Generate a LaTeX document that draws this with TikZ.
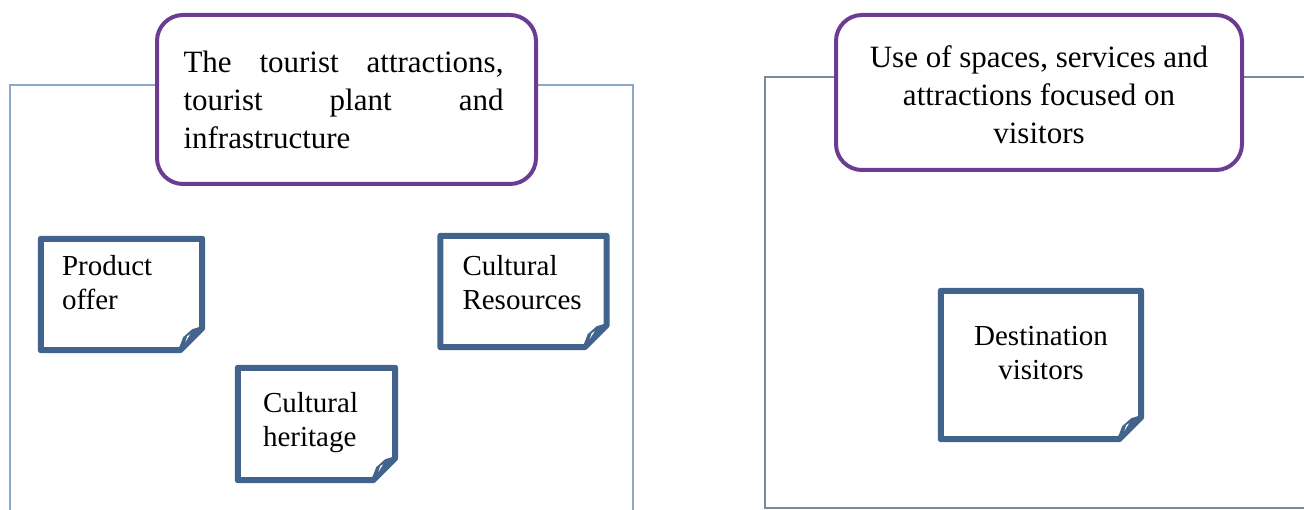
\documentclass[tikz,border=0pt]{standalone}
\usepackage{fontspec}
\setmainfont{Liberation Serif}
\usetikzlibrary{positioning}
\definecolor{titlepurple}{RGB}{108,60,146}
\definecolor{noteblue}{RGB}{66,99,140}
\definecolor{leftframe}{RGB}{140,170,200}
\definecolor{rightframe}{RGB}{122,138,152}
\tikzset{
  titlebox/.style={draw=titlepurple, line width=4pt, fill=white, rounded corners=26pt, inner sep=0pt},
  titletext/.style={inner sep=0pt, font=\fontsize{31}{38}\selectfont},
  notebox/.style={inner sep=0pt, fill=white},
  noteline/.style={draw=noteblue, line width=6pt, line join=round},
  notetext/.style={inner sep=0pt, font=\fontsize{29}{34}\selectfont}
}
\begin{document}
\begin{tikzpicture}[x=1pt, y=-1pt]
  \useasboundingbox (0,0) rectangle (1304,510);
  \draw[leftframe, line width=2pt] (10,512) -- (10,85) -- (633,85) -- (633,512);
  \draw[rightframe, line width=2pt] (1306,77) -- (765,77) -- (765,508) -- (1306,508);

  \node[titlebox, minimum width=379pt, minimum height=169pt] (attr) at (346.5,99.5) {};
  \node[titletext, text width=320pt, align=left, xshift=-3pt] (attrt) at (attr)
    {The\hfill tourist\hfill attractions,\\tourist\hfill plant\hfill and\\infrastructure};
  \node[titlebox, minimum width=406pt, minimum height=155pt] (use) at (1039,92.5) {};
  \node[titletext, align=center, yshift=-2pt] (uset) at (use)
    {Use of spaces, services and\\attractions focused on\\visitors};

  \node[notebox, minimum width=161pt, minimum height=111pt] (prod) at (121.5,294.5) {};
  \node[notebox, minimum width=166pt, minimum height=111pt] (res) at (523.5,291.5) {};
  \node[notebox, minimum width=157pt, minimum height=112pt] (her) at (316.5,424) {};
  \node[notebox, minimum width=200pt, minimum height=148pt] (dest) at (1041,365) {};

  \foreach \n in {prod,res,her,dest}{
    \draw[noteline] (\n.north west) -- (\n.north east) -- ([yshift=22pt]\n.south east)
      -- ([xshift=-22pt]\n.south east) -- (\n.south west) -- cycle;
    \fill[noteblue] ([xshift=-24pt]\n.south east) -- ([yshift=24pt]\n.south east)
      -- ([xshift=-10pt,yshift=21pt]\n.south east) -- ([xshift=-19pt,yshift=13pt]\n.south east) -- cycle;
    \fill[white] ([xshift=-17pt,yshift=8pt]\n.south east) -- ([xshift=-12pt,yshift=16pt]\n.south east)
      -- ([xshift=-15pt,yshift=14pt]\n.south east) -- cycle;
  }

  \node[notetext, align=left, below right=16pt and 21pt of prod.north west] (prodt) {Product\\offer};
  \node[notetext, align=left, below right=19pt and 22pt of res.north west] (rest) {Cultural\\Resources};
  \node[notetext, align=left, below right=24pt and 25pt of her.north west] (hert) {Cultural\\heritage};
  \node[notetext, align=center, below=35pt of dest.north] (destt) {Destination\\visitors};
\end{tikzpicture}
\end{document}
